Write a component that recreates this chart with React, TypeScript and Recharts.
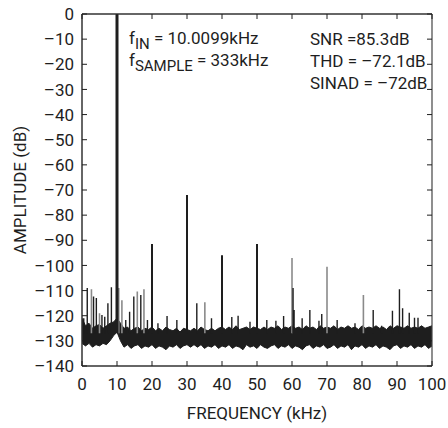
import React from "react";
import { ComposedChart, Line, Area, XAxis, YAxis } from "recharts";

const INK = "#1e1e1e";
const FONT = "Roboto, 'Liberation Sans', sans-serif";

const X_TICKS = [0, 10, 20, 30, 40, 50, 60, 70, 80, 90, 100];
const Y_TICKS = [0, -10, -20, -30, -40, -50, -60, -70, -80, -90, -100, -110, -120, -130, -140];

// noise floor envelope, read every 1 kHz
const NOISE_F = [
  0, 1, 2, 3, 4, 5, 6, 7, 8, 9, 10, 11, 12, 13, 14, 15, 16, 17, 18, 19, 20,
  21, 22, 23, 24, 25, 26, 27, 28, 29, 30, 31, 32, 33, 34, 35, 36, 37, 38, 39, 40,
  41, 42, 43, 44, 45, 46, 47, 48, 49, 50, 51, 52, 53, 54, 55, 56, 57, 58, 59, 60,
  61, 62, 63, 64, 65, 66, 67, 68, 69, 70, 71, 72, 73, 74, 75, 76, 77, 78, 79, 80,
  81, 82, 83, 84, 85, 86, 87, 88, 89, 90, 91, 92, 93, 94, 95, 96, 97, 98, 99, 100,
];
const NOISE_HI = [
  -121, -124, -123, -125, -124, -123.5, -125, -124, -123, -122.5, -121, -123, -125, -124.5, -126, -125, -124.5, -126, -125, -125.5, -124.5,
  -126, -125, -126, -124.5, -125.5, -126, -125, -126.5, -125, -125.5, -126, -125, -126, -124.5, -125.5, -126, -125, -126, -125, -124.5,
  -125.5, -124.5, -125.5, -124, -125.5, -125, -124.5, -125.5, -124.5, -125, -125.5, -124.5, -125.5, -124.5, -125, -124, -125.5, -124.5, -125, -124,
  -125, -124.5, -125.5, -124, -125, -124.5, -125.5, -124, -125, -124.5, -125, -124, -125.5, -124.5, -125, -124, -125, -124.5, -125.5, -124,
  -125, -124.5, -125, -124, -125, -124.5, -125.5, -124, -125, -124, -124.5, -125, -124, -125, -124.5, -125, -124, -125, -124.5, -124,
];
const NOISE_LO = [
  -131, -132, -131, -132.5, -131.5, -132, -131, -131.5, -130, -128, -126.5, -130, -132.5, -131.5, -133, -132, -131.5, -133, -132, -132.5, -131.5,
  -133, -132, -132.5, -133.5, -132, -132.5, -131.5, -133, -132, -131.5, -132.5, -131.5, -132.5, -131.5, -133, -132, -132.5, -131.5, -133, -132,
  -132.5, -131.5, -133, -132, -132.5, -133.5, -131.5, -132.5, -132, -133, -131.5, -132.5, -133, -132, -131.5, -133, -132, -132.5, -131.5, -133,
  -132, -132.5, -133.5, -132, -131.5, -133, -132, -132.5, -131.5, -133, -132.5, -131.5, -133, -132, -132.5, -131.5, -133.5, -132, -132.5, -131.5,
  -133, -132, -132.5, -131.5, -133, -132, -132.5, -133.5, -132, -131.5, -133, -132, -132.5, -131.5, -133, -132, -132.5, -131.5, -133, -132,
];

const CARRIER_F = [10];
const CARRIER_DB = [0];

const HARM_F = [20, 30, 40, 50];
const HARM_DB = [-91.5, -72, -96, -91.5];

const SPUR_F = [
  0.5, 1.5, 3.3, 4.1, 5.7, 6.5, 7.4, 8.4, 12.5, 13.6, 14.8, 16.8, 18.7, 21.7, 24.3, 27.1,
  32.8, 37, 42.8, 44.6, 48, 52.8, 55.4, 57.6, 60.3, 60.6, 62.9, 65.1, 67.7, 68.5, 72.9,
  78, 83.2, 85.6, 88.7, 90.7, 91.6, 93.5, 95, 96,
];
const SPUR_DB = [
  -121, -109, -112.4, -113, -119.7, -120.4, -115, -108.7, -121.7, -118.4, -112.4, -111.8, -121.7, -123, -120.1, -121.7,
  -115, -121, -120.5, -120, -122.4, -121.7, -122, -120.1, -109, -117.7, -121, -117.7, -122, -119.3, -121.7,
  -123, -117.7, -124, -118, -109.5, -117, -118.8, -120.8, -120.8,
];

const GRAY_F = [2.7, 5.0, 10.5, 11.4, 15.8, 17.7, 35.1, 60, 70, 80.4];
const GRAY_DB = [-109.5, -119, -109, -113.8, -110.4, -109.5, -114.6, -97, -100.5, -111.8];

const FLOOR = -127;

const sticks = (fs: number[], dbs: number[]) =>
  fs.flatMap((f, i) => [
    { f, y: FLOOR },
    { f, y: dbs[i] },
    { f, y: null },
  ]);

const noise = NOISE_F.map((f, i) => ({ f, band: [NOISE_LO[i], NOISE_HI[i]] }));

const fmtDb = (v: number) => (v < 0 ? `–${Math.abs(v)}` : `${v}`);

const LeftTick = (p: any) => (
  <g>
    <line x1={p.x + 8} x2={p.x + 13} y1={p.y} y2={p.y} stroke={INK} />
    <text x={p.x} y={p.y} dy="0.36em" textAnchor="end" fill={INK} fontSize={17} fontFamily={FONT}>
      {fmtDb(p.payload.value)}
    </text>
  </g>
);

const BottomTick = (p: any) => (
  <g>
    <line x1={p.x} x2={p.x} y1={p.y - 12} y2={p.y - 17} stroke={INK} />
    <text x={p.x} y={p.y} dy="0.71em" textAnchor="middle" fill={INK} fontSize={17} fontFamily={FONT}>
      {p.payload.value}
    </text>
  </g>
);

const TopTick = (p: any) => <line x1={p.x} x2={p.x} y1={p.y} y2={p.y + 5} stroke={INK} />;
const RightTick = (p: any) => <line x1={p.x - 5} x2={p.x} y1={p.y} y2={p.y} stroke={INK} />;

const txt = { fill: INK, fontSize: 17, fontFamily: FONT };

export default function App() {
  return (
    <div style={{ position: "relative", width: 448, height: 428 }}>
      <style>{"body{margin:0}"}</style>
      <ComposedChart width={448} height={428} margin={{ top: 13, right: 15, bottom: 22, left: 12 }}>
        <XAxis
          xAxisId="b"
          dataKey="f"
          type="number"
          domain={[0, 100]}
          ticks={X_TICKS}
          allowDataOverflow
          height={40}
          tickSize={0}
          tickMargin={12}
          tickLine={false}
          tick={BottomTick}
          axisLine={{ stroke: "#333", strokeWidth: 1.5 }}
        />
        <XAxis
          xAxisId="t"
          orientation="top"
          dataKey="f"
          type="number"
          domain={[0, 100]}
          ticks={X_TICKS}
          allowDataOverflow
          height={1}
          tickSize={0}
          tickMargin={0}
          tickLine={false}
          tick={TopTick}
          axisLine={{ stroke: "#333", strokeWidth: 1.5 }}
        />
        <YAxis
          yAxisId="l"
          type="number"
          domain={[-140, 0]}
          ticks={Y_TICKS}
          allowDataOverflow
          width={70}
          tickSize={0}
          tickMargin={8}
          tickLine={false}
          tick={LeftTick}
          axisLine={{ stroke: "#333", strokeWidth: 1.5 }}
        />
        <YAxis
          yAxisId="r"
          orientation="right"
          type="number"
          domain={[-140, 0]}
          ticks={Y_TICKS}
          allowDataOverflow
          width={1}
          tickSize={0}
          tickMargin={0}
          tickLine={false}
          tick={RightTick}
          axisLine={{ stroke: "#444", strokeWidth: 1.2 }}
        />
        <Line
          xAxisId="b"
          yAxisId="l"
          data={sticks(GRAY_F, GRAY_DB)}
          dataKey="y"
          stroke="#8a8a8a"
          strokeWidth={1.6}
          dot={false}
          isAnimationActive={false}
        />
        <Line
          xAxisId="b"
          yAxisId="l"
          data={sticks(SPUR_F, SPUR_DB)}
          dataKey="y"
          stroke={INK}
          strokeWidth={1.4}
          dot={false}
          isAnimationActive={false}
        />
        <Line
          xAxisId="b"
          yAxisId="l"
          data={sticks(HARM_F, HARM_DB)}
          dataKey="y"
          stroke={INK}
          strokeWidth={2}
          dot={false}
          isAnimationActive={false}
        />
        <Line
          xAxisId="b"
          yAxisId="l"
          data={sticks(CARRIER_F, CARRIER_DB)}
          dataKey="y"
          stroke={INK}
          strokeWidth={3}
          dot={false}
          isAnimationActive={false}
        />
        <Area
          xAxisId="b"
          yAxisId="l"
          data={noise}
          dataKey="band"
          type="linear"
          stroke={INK}
          strokeWidth={1}
          fill={INK}
          fillOpacity={1}
          dot={false}
          activeDot={false}
          isAnimationActive={false}
        />
      </ComposedChart>
      <svg width={448} height={428} style={{ position: "absolute", left: 0, top: 0, pointerEvents: "none" }}>
        <text x={129} y={43.5} {...txt}>
          f<tspan fontSize={15} dy={5}>IN</tspan>
          <tspan dy={-5}> = 10.0099kHz</tspan>
        </text>
        <text x={129} y={65.5} {...txt}>
          f<tspan fontSize={15} dy={5}>SAMPLE</tspan>
          <tspan dy={-5}> = 333kHz</tspan>
        </text>
        <text x={310} y={44.7} {...txt}>SNR =85.3dB</text>
        <text x={310} y={66.7} {...txt}>THD = –72.1dB</text>
        <text x={310} y={89} {...txt}>SINAD = –72dB</text>
        <text x={257} y={419} textAnchor="middle" {...txt}>FREQUENCY (kHz)</text>
        <text x={20} y={190} textAnchor="middle" dominantBaseline="central" transform="rotate(-90 20 190)" {...txt}>
          AMPLITUDE (dB)
        </text>
      </svg>
    </div>
  );
}
